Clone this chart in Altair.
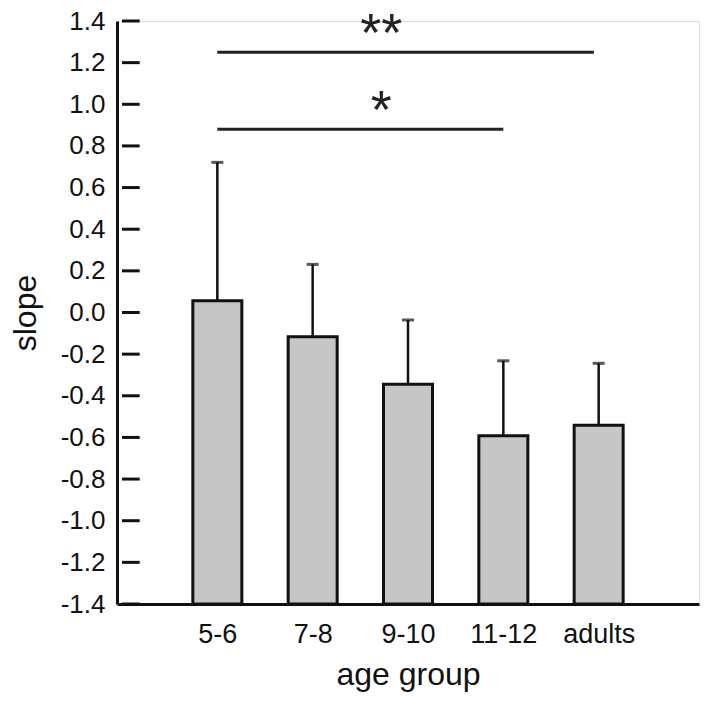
import altair as alt
import pandas as pd

groups = ["5-6", "7-8", "9-10", "11-12", "adults"]
slopes = [0.057, -0.116, -0.345, -0.592, -0.542]
upper = [0.721, 0.231, -0.036, -0.232, -0.244]
y_ticks = [-1.4, -1.2, -1.0, -0.8, -0.6, -0.4, -0.2, 0.0, 0.2, 0.4, 0.6, 0.8, 1.0, 1.2, 1.4]

sig_start = [0, 0]
sig_end = [3.95, 3.0]
sig_level = [1.25, 0.88]
sig_label = ["**", "*"]
sig_label_x = [1.72, 1.72]

FONT = "Liberation Sans"

df = pd.DataFrame({"idx": list(range(len(groups))), "group": groups,
                   "slope": slopes, "upper": upper})
sig = pd.DataFrame({"x1": sig_start, "x2": sig_end, "y": sig_level,
                    "label": sig_label, "lx": sig_label_x})
ticks = pd.DataFrame({"v": y_ticks})

label_expr = "[" + ",".join(f"'{g}'" for g in groups) + "][datum.value]"

xscale = alt.Scale(domain=[-1, 5], nice=False, zero=False)
yscale = alt.Scale(domain=[-1.4, 1.4], nice=False, zero=False)

x_enc = alt.X("idx:Q", scale=xscale,
              axis=alt.Axis(title="age group", values=list(range(len(groups))),
                            labelExpr=label_expr, ticks=False, grid=False,
                            domainWidth=3, domainColor="#111",
                            labelFont=FONT, labelFontSize=27, labelColor="#111",
                            labelPadding=17, titleFont=FONT, titleFontSize=32,
                            titleFontWeight="normal", titleColor="#111",
                            titlePadding=12))
y_enc = alt.Y("slope:Q", scale=yscale,
              axis=alt.Axis(title="slope", values=y_ticks,
                            labelExpr="replace(format(datum.value, '.1f'), '\u2212', '-')",
                            ticks=False, grid=False, domainWidth=3,
                            domainColor="#111", labelFont=FONT,
                            labelFontSize=26, labelColor="#111",
                            labelPadding=12, titleFont=FONT, titleFontSize=32,
                            titleFontWeight="normal", titleColor="#111",
                            titleX=-92, titleBaseline="middle"))

base = alt.Chart(df)

bars = base.mark_bar(size=49, color="#c6c6c6", stroke="#111",
                     strokeWidth=3).encode(x=x_enc, y=y_enc,
                                           y2=alt.datum(-1.4))

err = base.mark_rule(color="#111", strokeWidth=2.5).encode(
    x="idx:Q", y="slope:Q", y2="upper:Q")

caps = base.mark_tick(orient="horizontal", size=12, thickness=3,
                      color="#111").encode(x="idx:Q", y="upper:Q")

# inward y-axis ticks (18 px long): from x=-1 to -1 + 18/97 in data units
tick_marks = alt.Chart(ticks).mark_rule(color="#111", strokeWidth=3).encode(
    x=alt.datum(-1, scale=xscale), x2=alt.datum(-0.8144),
    y=alt.Y("v:Q", scale=yscale))

sig_lines = alt.Chart(sig).mark_rule(color="#222", strokeWidth=3).encode(
    x=alt.X("x1:Q", scale=xscale), x2="x2:Q", y=alt.Y("y:Q", scale=yscale))

sig_text = alt.Chart(sig).mark_text(font=FONT, fontSize=54, color="#222",
                                    baseline="alphabetic", dy=-1).encode(
    x=alt.X("lx:Q", scale=xscale), y=alt.Y("y:Q", scale=yscale),
    text="label:N")

chart = alt.layer(bars, err, caps, tick_marks, sig_lines, sig_text).properties(
    width=582, height=583,
    autosize=alt.AutoSizeParams(type="none"),
    padding={"left": 109, "top": 13, "right": 5, "bottom": 95},
).configure_view(stroke=None).configure(background="white")

chart.save("out.html", embed_options={"renderer": "svg", "actions": False})
